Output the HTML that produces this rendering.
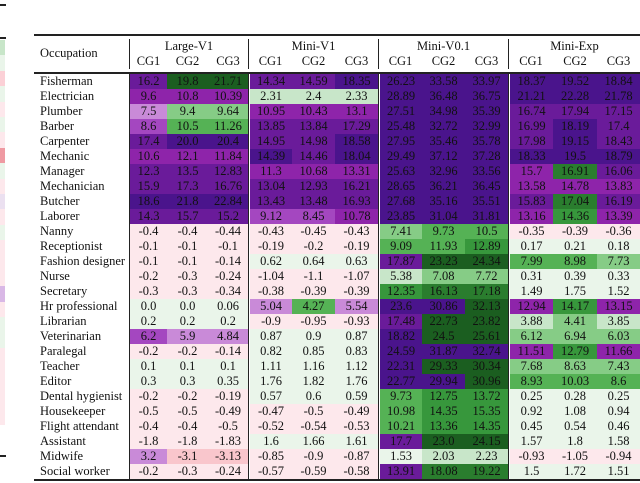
<!DOCTYPE html>
<html><head><meta charset="utf-8">
<style>
body{margin:0;width:640px;height:483px;background:#fff;position:relative;overflow:hidden;font-family:"Liberation Serif","Times New Roman",Times,"DejaVu Serif",serif;font-size:12.5px;color:#111}
.c{position:absolute;text-align:center;height:15px;line-height:15px}
.l{position:absolute;height:15px;line-height:15px;left:40px}
.h{position:absolute;text-align:center;line-height:14px}
.rule{position:absolute;background:#222}
</style></head><body>
<div id="strip"></div>
<div id="tbl"></div>
<script>
const occupations=["Fisherman","Electrician","Plumber","Barber","Carpenter","Mechanic","Manager","Mechanician","Butcher","Laborer","Nanny","Receptionist","Fashion designer","Nurse","Secretary","Hr professional","Librarian","Veterinarian","Paralegal","Teacher","Editor","Dental hygienist","Housekeeper","Flight attendant","Assistant","Midwife","Social worker"];
const models=["Large-V1","Mini-V1","Mini-V0.1","Mini-Exp"];
const groups=["CG1","CG2","CG3"];
const largeV1=[["16.2","19.8","21.71"],["9.6","10.8","10.39"],["7.5","9.4","9.64"],["8.6","10.5","11.26"],["17.4","20.0","20.4"],["10.6","12.1","11.84"],["12.3","13.5","12.83"],["15.9","17.3","16.76"],["18.6","21.8","22.84"],["14.3","15.7","15.2"],["-0.4","-0.4","-0.44"],["-0.1","-0.1","-0.1"],["-0.1","-0.1","-0.14"],["-0.2","-0.3","-0.24"],["-0.3","-0.3","-0.34"],["0.0","0.0","0.06"],["0.2","0.2","0.2"],["6.2","5.9","4.84"],["-0.2","-0.2","-0.14"],["0.1","0.1","0.1"],["0.3","0.3","0.35"],["-0.2","-0.2","-0.19"],["-0.5","-0.5","-0.49"],["-0.4","-0.4","-0.5"],["-1.8","-1.8","-1.83"],["3.2","-3.1","-3.13"],["-0.2","-0.3","-0.24"]];
const miniV1=[["14.34","14.59","18.35"],["2.31","2.4","2.33"],["10.95","10.43","13.1"],["13.85","13.84","17.29"],["14.95","14.98","18.58"],["14.39","14.46","18.04"],["11.3","10.68","13.31"],["13.04","12.93","16.21"],["13.43","13.48","16.93"],["9.12","8.45","10.78"],["-0.43","-0.45","-0.43"],["-0.19","-0.2","-0.19"],["0.62","0.64","0.63"],["-1.04","-1.1","-1.07"],["-0.38","-0.39","-0.39"],["5.04","4.27","5.54"],["-0.9","-0.95","-0.93"],["0.87","0.9","0.87"],["0.82","0.85","0.83"],["1.11","1.16","1.12"],["1.76","1.82","1.76"],["0.57","0.6","0.59"],["-0.47","-0.5","-0.49"],["-0.52","-0.54","-0.53"],["1.6","1.66","1.61"],["-0.85","-0.9","-0.87"],["-0.57","-0.59","-0.58"]];
const miniV01=[["26.23","33.58","33.97"],["28.89","36.48","36.75"],["27.51","34.98","35.39"],["25.48","32.72","32.99"],["27.95","35.46","35.78"],["29.49","37.12","37.28"],["25.63","32.96","33.56"],["28.65","36.21","36.45"],["27.68","35.16","35.51"],["23.85","31.04","31.81"],["7.41","9.73","10.5"],["9.09","11.93","12.89"],["17.87","23.23","24.34"],["5.38","7.08","7.72"],["12.35","16.13","17.18"],["23.6","30.86","32.13"],["17.48","22.73","23.82"],["18.82","24.5","25.61"],["24.59","31.87","32.74"],["22.31","29.33","30.34"],["22.77","29.94","30.96"],["9.73","12.75","13.72"],["10.98","14.35","15.35"],["10.21","13.36","14.35"],["17.7","23.0","24.15"],["1.53","2.03","2.23"],["13.91","18.08","19.22"]];
const miniExp=[["18.37","19.52","18.84"],["21.21","22.28","21.78"],["16.74","17.94","17.15"],["16.99","18.19","17.4"],["17.98","19.15","18.43"],["18.33","19.5","18.79"],["15.7","16.91","16.06"],["13.58","14.78","13.83"],["15.83","17.04","16.19"],["13.16","14.36","13.39"],["-0.35","-0.39","-0.36"],["0.17","0.21","0.18"],["7.99","8.98","7.73"],["0.31","0.39","0.33"],["1.49","1.75","1.52"],["12.94","14.17","13.15"],["3.88","4.41","3.85"],["6.12","6.94","6.03"],["11.51","12.79","11.66"],["7.68","8.63","7.43"],["8.93","10.03","8.6"],["0.25","0.28","0.25"],["0.92","1.08","0.94"],["0.45","0.54","0.46"],["1.57","1.8","1.58"],["-0.93","-1.05","-0.94"],["1.5","1.72","1.51"]];
const shades=[
"P g6 g6 P P D D D D D D D","M M M g1 g1 g1 D D D D D D","LL g2 g2 M M M D D D P P P","L g3 g3 P P P D D D P D P",
"P D D P P D D D D P D P","M M M D P D D D D D D D","P P P M M M D D D M g5 P","P P P P P P D D D M M M",
"D D D P P P D D D P g5 P","P P P L L M D D D M g4 M","r r r r r r g2 g3 g3 r r r","r r r r r r g3 g3 g4 w w w",
"r r r w w w P g6 g6 g3 g3 g2","r r r r r r g1 g2 g2 w w w","r r r r r r g4 g5 g5 w w w","w w w LL g3 LL D D g6 M g4 M",
"w w w r r r P g6 g6 g1 g2 g1","L LL LL w w w D g6 g6 g2 g2 g2","r r r w w w D D D M g4 M","w w w w w w D g6 g6 g2 g2 g2",
"w w w w w w D D g6 g3 g3 g3","r r r w w w g3 g4 g4 w w w","r r r r r r g3 g4 g4 w w w","r r r r r r g3 g4 g4 w w w",
"r r r w w w P g6 g6 w w w","LL r1 r1 r r r w g1 g1 r r r","r r r r r r P g5 g5 w w w"];
const pal={D:"#4a148c",P:"#6a1b9a",M:"#8e24aa",L:"#a447c0",LL:"#c98ad8",r:"#fde8ec",r1:"#f9c6cc",w:"#eaf5ea",g1:"#c8e6c9",g2:"#86cc86",g3:"#55b255",g4:"#37973c",g5:"#2a7d2e",g6:"#1b5e20"};
const allData=[largeV1,miniV1,miniV01,miniExp];
const groupX=[[130,167,208,248],[249,292,335,378],[379,422,465,508],[509,553,597,640]];
const tbl=document.getElementById('tbl');
function rule(x,y,w,h,name){const d=document.createElement('div');d.className='rule';


d.style.cssText=`left:${x}px;top:${y}px;width:${w}px;height:${h}px`;tbl.appendChild(d);}
rule(34,34,606,1.5,'top-rule');rule(34,72,606,1.5,'header-rule');rule(34,479,606,1.5,'bottom-rule');
[129,248,378,508].forEach(x=>{rule(x,39,1,30,'header-separator');rule(x,74,1,405,'column-separator');});
const oh=document.createElement('div');oh.className='h';oh.textContent='Occupation';


oh.style.cssText='left:40px;top:46px;text-align:left';tbl.appendChild(oh);
models.forEach((m,mi)=>{const gx=groupX[mi];
const h=document.createElement('div');h.className='h';h.textContent=m;


h.style.cssText=`left:${gx[0]}px;width:${gx[3]-gx[0]}px;top:39px`;tbl.appendChild(h);
groups.forEach((g,gi)=>{const s=document.createElement('div');s.className='h';s.textContent=g;


s.style.cssText=`left:${gx[gi]}px;width:${gx[gi+1]-gx[gi]}px;top:54px`;tbl.appendChild(s);});});
occupations.forEach((o,ri)=>{const y=74+ri*15;
const l=document.createElement('div');l.className='l';l.textContent=o;


l.style.top=y+'px';tbl.appendChild(l);
const codes=shades[ri].split(' ');
allData.forEach((arr,mi)=>{const gx=groupX[mi];
arr[ri].forEach((v,gi)=>{const c=document.createElement('div');c.className='c';c.textContent=v;


c.style.cssText=`left:${gx[gi]+(gi==0&&mi>0?1:0)}px;width:${gx[gi+1]-gx[gi]-(gi==0&&mi>0?1:0)}px;top:${y}px;background:${pal[codes[mi*3+gi]]}`;
tbl.appendChild(c);});});});
const stripCols=["#c8e6c9","#eaf5ea","#fbd0d6","#eaf5ea","#fde8ec","#eaf5ea","#fde8ec","#ef9aa2","#eaf5ea","#fde8ec","#ebe0f0","#fde8ec","#eaf5ea","#fde8ec","#fde8ec","#fde8ec","#d9b8e6","#fde8ec","#eaf5ea","#eaf5ea","#fde8ec","#fde8ec","#fde8ec","#fde8ec","#fde8ec"];
const strip=document.getElementById('strip');
stripCols.forEach((col,i)=>{const d=document.createElement('div');


d.style.cssText=`position:absolute;left:0;width:5px;top:${40+i*15.4}px;height:15.4px;background:${col}`;strip.appendChild(d);});
[[4,'strip-top-rule'],[37,'strip-header-rule'],[455,'strip-bottom-rule']].forEach(([y,n])=>{const d=document.createElement('div');


d.style.cssText=`position:absolute;left:0;width:6px;top:${y}px;height:1.5px;background:#222`;strip.appendChild(d);});
</script>
</body></html>
